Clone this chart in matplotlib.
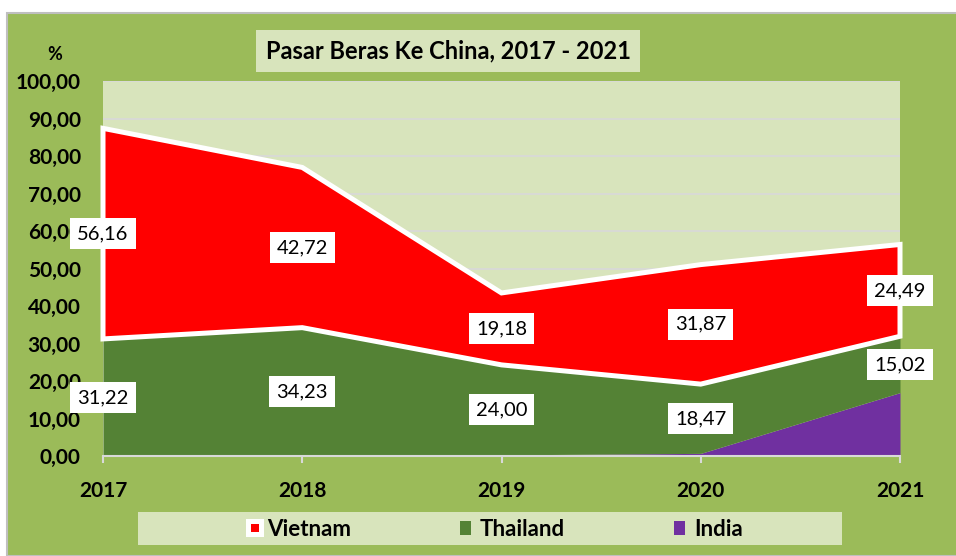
import numpy as np
from matplotlib import pyplot as plt
from matplotlib.patches import Rectangle
import matplotlib

matplotlib.rcParams['font.family'] = ['Lato', 'DejaVu Sans']

years = ['2017', '2018', '2019', '2020', '2021']
india = [0.0, 0.0, 0.3, 0.7, 16.9]
thailand = [31.22, 34.23, 24.00, 18.47, 15.02]
vietnam = [56.16, 42.72, 19.18, 31.87, 24.49]
yticks = np.arange(0, 101, 10)

c_bg = '#9BBB59'
c_plot = '#D8E4BC'
c_viet = '#FF0000'
c_thai = '#548235'
c_india = '#7030A0'


def lbl(s):
    return '{:.2f}'.format(s).replace('.', ',')


def main():
    W, H = 956, 556
    fig = plt.figure(figsize=(W / 100, H / 100), dpi=100)
    fig.patch.set_facecolor('white')
    # outer chart area
    fig.patches.append(Rectangle((7 / W, 0), 1, 1 - 13 / H, transform=fig.transFigure,
                                 facecolor=c_bg, edgecolor='#BFBFBF', lw=1.5, zorder=-10))

    ax = fig.add_axes([103 / W, 1 - 456 / H, (900 - 103) / W, (456 - 81) / H])
    ax.set_facecolor(c_plot)
    x = np.arange(len(years))
    ind = np.array(india)
    th = ind + np.array(thailand)
    vt = th + np.array(vietnam)

    ax.fill_between(x, 0, ind, color=c_india, lw=0, zorder=2)
    ax.fill_between(x, ind, th, color=c_thai, lw=0, zorder=2)
    ax.fill(np.concatenate([x, x[::-1]]), np.concatenate([vt, th[::-1]]),
            facecolor=c_viet, edgecolor='white', lw=3.6, zorder=3, joinstyle='miter',
            clip_on=False)

    ax.set_xlim(0, len(years) - 1)
    ax.set_ylim(0, 100)
    ax.set_yticks(yticks)
    ax.set_yticklabels([lbl(v) for v in yticks], fontsize=15, fontweight='bold')
    ax.set_xticks(x)
    ax.set_xticklabels(years, fontsize=15, fontweight='bold')
    ax.grid(axis='y', color='#D9D9D9', lw=1.2, zorder=1)
    ax.set_axisbelow(True)
    for s in ['top', 'right', 'left']:
        ax.spines[s].set_visible(False)
    ax.spines['bottom'].set_color('#D9D9D9')
    ax.spines['bottom'].set_linewidth(1.5)
    ax.spines['bottom'].set_zorder(4)
    ax.tick_params(axis='y', length=0, pad=16)
    ax.tick_params(axis='x', length=5, color='#D9D9D9', width=1.5, pad=13)

    # data labels
    for i in x:
        for lo, val in [(ind[i], thailand[i]), (th[i], vietnam[i])]:
            ax.text(i, lo + val / 2, lbl(val), ha='center', va='center', fontsize=14.5,
                    zorder=6, clip_on=False,
                    bbox=dict(boxstyle='square,pad=0.35', fc='white', ec='none'))

    # title
    fig.text(448 / W, 1 - 51 / H, 'Pasar Beras Ke China, 2017 - 2021', ha='center',
             va='center', fontsize=17, fontweight='bold',
             bbox=dict(boxstyle='square,pad=0.4', fc=c_plot, ec='none'))
    fig.text(55 / W, 1 - 55 / H, '%', ha='center', va='center', fontsize=13,
             fontweight='bold')

    # legend
    fig.patches.append(Rectangle((138 / W, 1 - 545 / H), (842 - 138) / W, 33 / H,
                                 transform=fig.transFigure, facecolor=c_plot,
                                 edgecolor='none', zorder=1))
    fig.patches.append(Rectangle((246 / W, 1 - 537 / H), 18 / W, 18 / H,
                                 transform=fig.transFigure, facecolor='white',
                                 edgecolor='none', zorder=2))
    fig.patches.append(Rectangle((251 / W, 1 - 532 / H), 8 / W, 8 / H,
                                 transform=fig.transFigure, facecolor=c_viet,
                                 edgecolor='none', zorder=3))
    fig.patches.append(Rectangle((460 / W, 1 - 535 / H), 11 / W, 14 / H,
                                 transform=fig.transFigure, facecolor=c_thai,
                                 edgecolor='none', zorder=2))
    fig.patches.append(Rectangle((674 / W, 1 - 535 / H), 11 / W, 14 / H,
                                 transform=fig.transFigure, facecolor=c_india,
                                 edgecolor='none', zorder=2))
    for xx, name in [(267, 'Vietnam'), (480, 'Thailand'), (694, 'India')]:
        fig.text(xx / W, 1 - 529 / H, name, ha='left', va='center', fontsize=16,
                 fontweight='bold')

    fig.savefig('out.png', dpi=100, facecolor=fig.get_facecolor())


if __name__ == "__main__":
    main()
